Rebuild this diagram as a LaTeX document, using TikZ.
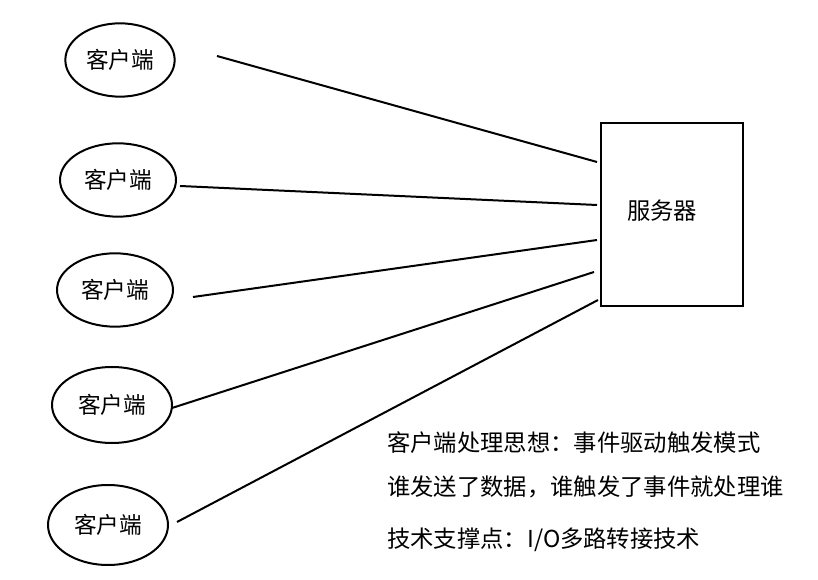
\documentclass[tikz,border=0pt]{standalone}
\usepackage{fontspec}
\newfontfamily\cjk{Noto Sans CJK SC}
\usetikzlibrary{shapes.geometric}
\begin{document}
\begin{tikzpicture}[x=0.75pt,y=-0.75pt,
  cli/.style={draw,line width=1.5pt,ellipse,inner sep=0,font=\cjk\fontsize{17}{20}\selectfont},
  lnk/.style={line width=1.5pt},
  txt/.style={anchor=west,font=\cjk\fontsize{17.5}{20}\selectfont,inner sep=0}]
\useasboundingbox (0,0) rectangle (818,580);
\node[cli,minimum width=82pt,minimum height=55pt] (c1) at (120,60) {客户端};
\node[cli,minimum width=87pt,minimum height=55pt] (c2) at (118,180) {客户端};
\node[cli,minimum width=87pt,minimum height=55pt] (c3) at (115,290) {客户端};
\node[cli,minimum width=90pt,minimum height=57pt] (c4) at (112,405) {客户端};
\node[cli,minimum width=90pt,minimum height=60pt] (c5) at (108,525) {客户端};
\draw[line width=1.5pt] (601,123) rectangle (743,306);
\node[font=\cjk\fontsize{17.5}{20}\selectfont] (s) at (662,211) {服务器};
\coordinate (a1) at (217,56); \coordinate (b1) at (597,162);
\coordinate (a2) at (180,186); \coordinate (b2) at (597,205);
\coordinate (a3) at (193,297); \coordinate (b3) at (597,240);
\coordinate (a4) at (172,408); \coordinate (b4) at (594,272);
\coordinate (a5) at (177,522); \coordinate (b5) at (598,300);
\foreach \i in {1,...,5} \draw[lnk] (a\i) -- (b\i);
\node[txt] (t1) at (387,443) {客户端处理思想：事件驱动触发模式};
\node[txt] (t2) at (387,487) {谁发送了数据，谁触发了事件就处理谁};
\node[txt] (t3) at (387,540) {技术支撑点：I/O多路转接技术};
\end{tikzpicture}
\end{document}
